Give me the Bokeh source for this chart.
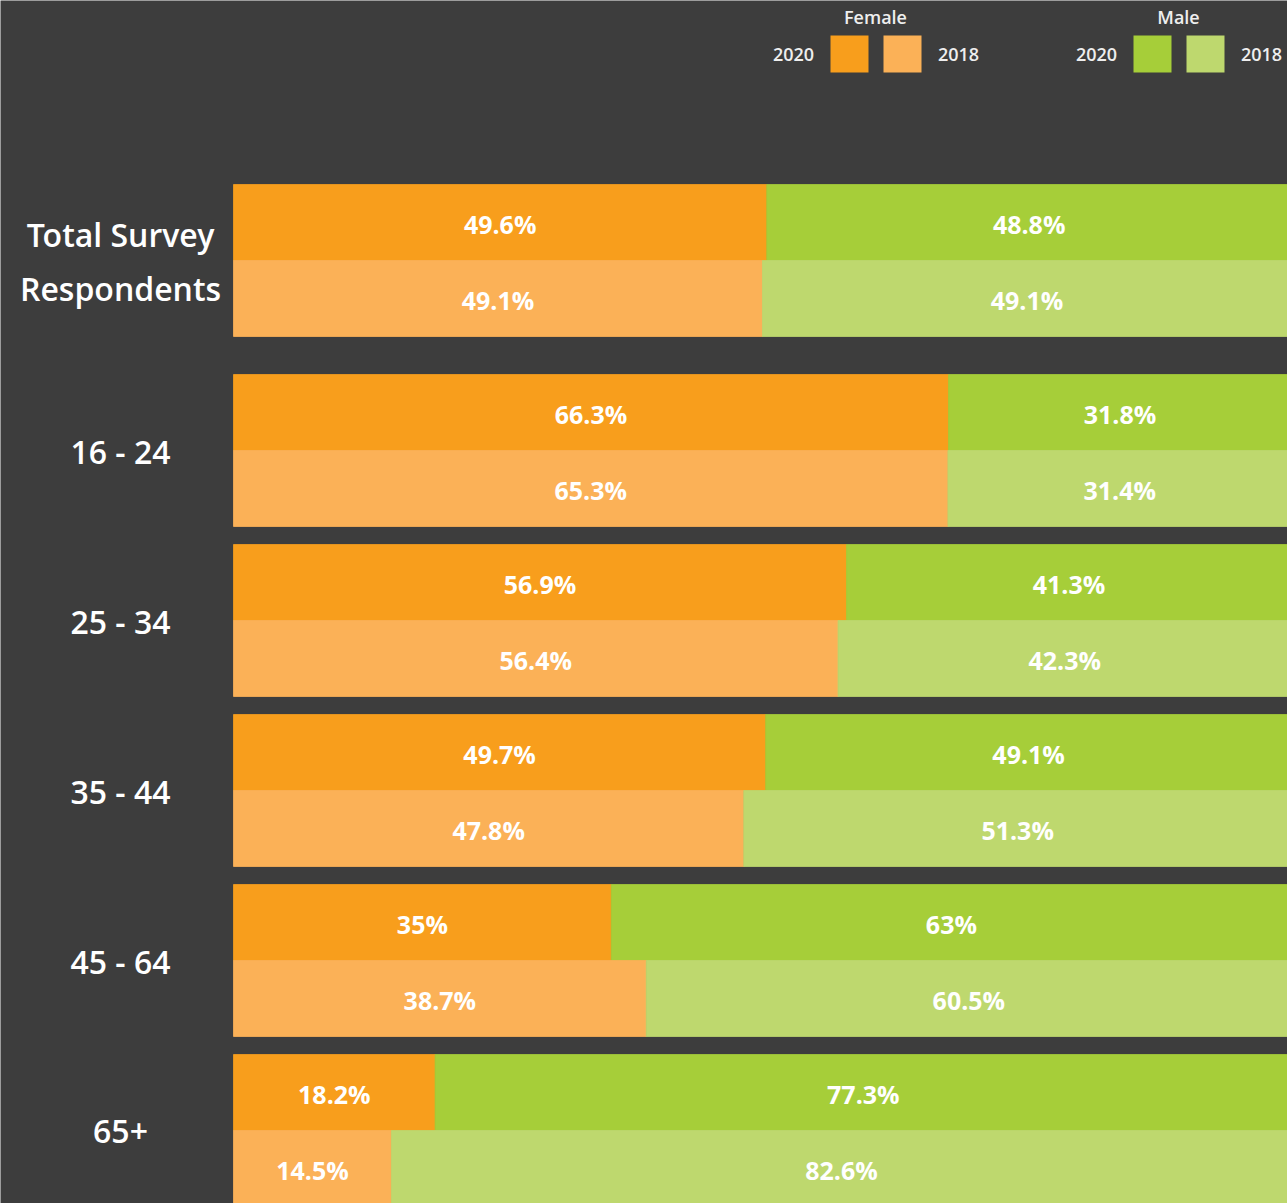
from bokeh.plotting import figure
from bokeh.models import Range1d, ColumnDataSource
from bokeh.core.properties import value
from bokeh.embed import file_html
from bokeh.resources import INLINE

# ---------------- data ----------------
groups = ["Total Survey\nRespondents", "16 - 24", "25 - 34", "35 - 44", "45 - 64", "65+"]
female_2020 = [49.6, 66.3, 56.9, 49.7, 35, 18.2]
male_2020 = [48.8, 31.8, 41.3, 49.1, 63, 77.3]
female_2018 = [49.1, 65.3, 56.4, 47.8, 38.7, 14.5]
male_2018 = [49.1, 31.4, 42.3, 51.3, 60.5, 82.6]
years = ["2020", "2018"]
genders = ["Female", "Male"]

# ---------------- style / layout ----------------
BG = "#3d3d3d"
COLORS = {("Female", "2020"): "#f89e1c", ("Female", "2018"): "#fbb157",
          ("Male", "2020"): "#a6ce39", ("Male", "2018"): "#bed86e"}
FONT = "Open Sans"
FONT_MED = "Open Sans SemiBold"
W, H = 1287, 1203
LEFT = 233      # width of label column (px)
SPAN = 1058     # px for a full 100% bar
BAR = 76        # bar thickness (px)
FIRST_TOP = 184
PITCH = 170
EXTRA = 20


def px(x):
    return (x - LEFT) / SPAN


p = figure(width=W, height=H, x_range=Range1d(px(0), px(W)), y_range=Range1d(H, 0),
           output_backend="svg", toolbar_location=None, min_border=0,
           x_axis_location=None, y_axis_location=None)
p.grid.visible = False
p.outline_line_color = None
p.background_fill_color = BG
p.border_fill_color = BG

bars = dict(left=[], right=[], y=[], color=[])
vals = dict(x=[], y=[], text=[])
cats = dict(x=[], y=[], text=[])

for i, g in enumerate(groups):
    top = FIRST_TOP + i * PITCH + (EXTRA if i > 0 else 0)
    cats["x"].append(px(120))
    cats["y"].append(top + BAR + 1)
    rows = [(female_2020[i], male_2020[i]), (female_2018[i], male_2018[i])]
    for j, (f, m) in enumerate(rows):
        y = top + BAR * j + BAR / 2
        share = f / (f + m)
        for gender, lft, rgt, v in (("Female", 0.0, share, f), ("Male", share, 1.0, m)):
            bars["left"].append(lft)
            bars["right"].append(rgt)
            bars["y"].append(y)
            bars["color"].append(COLORS[(gender, years[j])])
            vals["x"].append((lft + rgt) / 2)
            vals["y"].append(y + 1)
            vals["text"].append(f"{v:g}%")
    cats["text"].append(g)

p.hbar(y="y", left="left", right="right", height=BAR, fill_color="color",
       line_color="color", line_width=0.8, source=ColumnDataSource(bars))
p.text(x="x", y="y", text="text", source=ColumnDataSource(vals),
       text_font=value(FONT), text_font_style="bold", text_font_size="25px",
       text_color="white", text_align="center", text_baseline="middle")
p.text(x="x", y="y", text="text", source=ColumnDataSource(cats),
       text_font=value(FONT_MED), text_font_size="32px", text_line_height=1.24,
       text_color="white", text_align="center", text_baseline="middle")

# ---------------- legend ----------------
leg_centers = {"Female": 875, "Male": 1178}
sq = dict(x=[], y=[], color=[])
lt = dict(x=[], y=[], text=[])
for gender in genders:
    c = leg_centers[gender]
    lt["x"] += [px(c), px(c - 82), px(c + 83)]
    lt["y"] += [16, 54, 54]
    lt["text"] += [gender, years[0], years[1]]
    sq["x"] += [px(c - 26), px(c + 27)]
    sq["y"] += [53.5, 53.5]
    sq["color"] += [COLORS[(gender, years[0])], COLORS[(gender, years[1])]]

p.rect(x="x", y="y", width=38, height=37, width_units="screen", height_units="screen",
       color="color", line_color=None, source=ColumnDataSource(sq))
p.text(x="x", y="y", text="text", source=ColumnDataSource(lt),
       text_font=value(FONT_MED), text_font_size="18px", text_color="#eeeeee",
       text_align="center", text_baseline="middle")

open("out.html", "w").write(file_html(p, INLINE))
